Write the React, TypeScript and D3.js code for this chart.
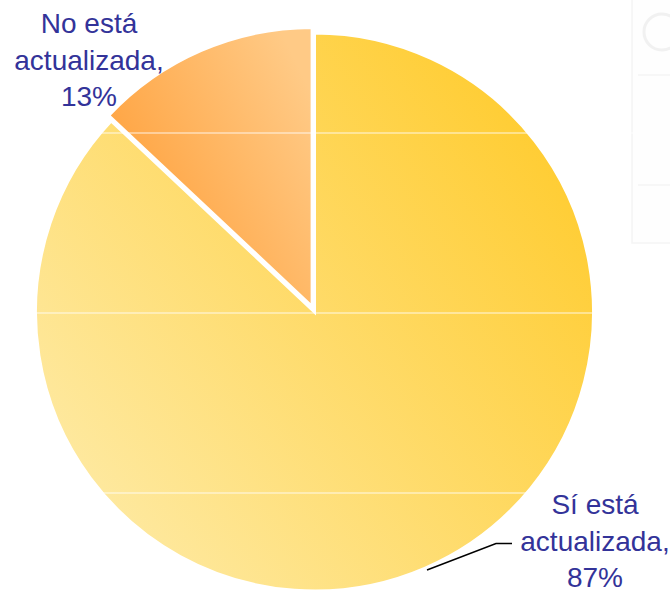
import React from "react";
import * as d3 from "d3";

const categories = ["Sí está actualizada", "No está actualizada"];
const values = [87, 13];
const labelLines = [
  ["Sí está", "actualizada,", "87%"],
  ["No está", "actualizada,", "13%"],
];
const gridYs = [133, 313, 493];

export default function App() {
  const W = 670, H = 592;
  const cx = 314.5, cy = 312, r = 279;
  const pie = d3.pie<number>().sort(null).value((d) => d).startAngle(0).endAngle(2 * Math.PI);
  const arcs = pie(values);
  const arc = d3.arc<d3.PieArcDatum<number>>().innerRadius(0).outerRadius(r);
  const explode = [0, 6];
  const fills = ["url(#gYellow)", "url(#gOrange)"];
  const labelPos = [
    { x: 595, y: 514 },
    { x: 89, y: 33 },
  ];
  return (
    <svg width={W} height={H} style={{ position: "absolute", left: 0, top: 0 }}>
      <defs>
        <linearGradient id="gYellow" gradientUnits="userSpaceOnUse" x1={590 - cx} y1={170 - cy} x2={70 - cx} y2={550 - cy}>
          <stop offset="0" stopColor="#FFCC30" />
          <stop offset="1" stopColor="#FEEBA8" />
        </linearGradient>
        <linearGradient id="gOrange" gradientUnits="userSpaceOnUse" x1={115 - cx} y1={160 - cy} x2={300 - cx} y2={70 - cy}>
          <stop offset="0" stopColor="#FFA442" />
          <stop offset="1" stopColor="#FFCA86" />
        </linearGradient>
      </defs>
      <rect x={0} y={0} width={W} height={H} fill="#fff" />
      <g opacity={0.2}>
        <rect x={632} y={-2} width={50} height={245} fill="#fbfbfb" stroke="#ccc" strokeWidth={1.5} />
        <circle cx={662} cy={32} r={18} fill="none" stroke="#bbb" strokeWidth={3} />
        <line x1={638} y1={75} x2={670} y2={75} stroke="#ccc" strokeWidth={1.5} />
        <line x1={638} y1={185} x2={670} y2={185} stroke="#ccc" strokeWidth={1.5} />
      </g>
      {arcs.map((a, i) => {
        const mid = (a.startAngle + a.endAngle) / 2;
        const dx = Math.sin(mid) * explode[i];
        const dy = -Math.cos(mid) * explode[i];
        return (
          <path
            key={categories[i]}
            d={arc(a) || ""}
            transform={`translate(${cx + dx},${cy + dy})`}
            fill={fills[i]}
            stroke="#fff"
            strokeWidth={3}
            strokeLinejoin="miter"
          />
        );
      })}
      {gridYs.map((y) => (
        <line key={y} x1={0} x2={W} y1={y} y2={y} stroke="#fff" strokeWidth={1.2} opacity={0.85} />
      ))}
      <polyline
        points="427,570 496,543.5 512,543.5"
        fill="none"
        stroke="#000"
        strokeWidth={1.5}
      />
      {labelLines.map((lines, i) => (
        <text
          key={categories[i]}
          x={labelPos[i].x}
          y={labelPos[i].y}
          textAnchor="middle"
          fontFamily="'Liberation Sans', Arial, sans-serif"
          fontSize={28}
          fill="#333399"
        >
          {lines.map((l, j) => (
            <tspan key={j} x={labelPos[i].x} dy={j === 0 ? 0 : 36.5}>
              {l}
            </tspan>
          ))}
        </text>
      ))}
    </svg>
  );
}
